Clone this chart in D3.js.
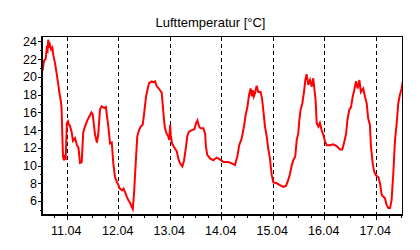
<!DOCTYPE html>
<html><head><meta charset="utf-8">
<script src="https://cdn.jsdelivr.net/npm/d3@7"></script>
<style>
html,body{margin:0;padding:0;background:#fff;}
svg{display:block;}
text{font-family:Arial,"Liberation Sans",sans-serif;fill:#000;}
</style>
</head><body>
<svg id="chart" width="420" height="250"></svg>
<script>
const chartTitle = "Lufttemperatur [°C]";
// hours since 10.04 00:00
const hours = [12.8,13.2,13.6,14.2,14.7,15.1,15.4,15.8,16.2,16.7,17.3,17.8,18.6,19.3,20.1,20.6,21.2,21.6,22.0,22.3,22.7,23.2,23.5,23.9,24.1,24.6,25.0,25.5,26.3,26.9,27.9,28.8,29.5,30.2,31.0,31.7,32.5,33.6,34.9,35.5,36.1,37.2,38.1,38.7,39.5,40.3,41.4,42.3,42.6,43.4,44.2,45.0,45.7,46.5,47.3,48.1,48.8,49.8,50.5,51.2,52.0,52.7,53.5,54.3,54.8,55.4,55.8,56.3,56.9,57.7,58.5,59.4,60.0,60.5,61.0,61.6,62.4,63.6,64.4,65.2,65.9,67.5,68.3,68.7,69.3,69.8,70.6,71.3,71.8,72.2,72.5,73.1,74.0,75.3,76.0,76.8,77.9,78.7,79.6,80.2,80.9,82.3,83.5,84.3,84.9,85.7,86.4,87.7,88.5,88.9,89.5,90.8,92.3,93.9,95.4,97.0,99.3,100.9,102.4,103.5,104.4,105.6,106.6,107.4,108.2,109.0,109.7,110.2,110.7,111.2,111.8,112.5,113.3,114.4,115.0,115.6,116.4,117.2,117.9,118.7,119.5,120.3,121.9,123.4,124.9,126.2,127.3,128.1,128.9,129.6,130.5,131.2,131.9,132.4,133.0,133.8,134.6,135.2,135.8,136.6,137.4,138.2,138.9,139.4,140.0,140.5,141.3,142.0,142.8,143.6,144.4,145.2,146.7,148.2,149.8,151.4,152.4,153.2,154.2,154.8,155.7,156.5,157.3,158.0,158.8,159.6,160.4,161.1,162.2,163.0,163.8,164.5,165.3,165.8,166.6,167.3,168.1,169.2,170.0,170.8,171.5,172.3,173.1,173.9,174.7,175.4,176.2,177.0,177.8,178.5,179.3,180.1,180.6];
const temps = [20.7,21.5,21.9,22.0,23.2,23.0,24.2,23.3,23.6,23.1,23.3,22.4,21.5,20.4,19.1,18.2,17.4,16.5,13.0,11.0,10.6,11.2,10.6,13.5,14.8,15.0,14.6,14.5,13.8,12.8,13.1,12.3,12.0,10.3,10.4,13.7,14.4,15.1,15.7,16.0,15.8,13.5,12.6,13.5,16.3,16.7,16.5,16.6,15.9,14.4,12.5,12.6,10.3,8.7,8.2,7.8,7.4,7.2,7.4,7.0,6.5,6.1,5.8,5.35,5.1,6.9,8.7,10.85,13.3,14.0,14.4,14.6,15.7,16.8,17.8,18.5,19.3,19.5,19.4,19.5,19.0,18.5,18.2,17.0,15.3,14.2,13.6,13.3,12.9,14.6,13.4,12.5,12.1,11.6,10.8,10.25,9.9,10.6,12.1,13.3,13.8,14.0,14.1,14.8,15.1,14.4,14.2,14.2,13.6,12.1,11.2,10.8,10.6,10.9,10.7,10.4,10.4,10.25,10.05,11.0,12.3,13.1,14.4,15.7,16.6,18.0,18.7,17.8,18.5,17.8,18.2,19.0,18.3,18.3,17.6,16.3,14.4,13.3,11.95,10.8,9.0,8.1,8.0,7.8,7.6,7.7,8.4,9.1,10.05,10.6,11.0,12.9,13.6,15.1,16.3,17.0,18.3,19.65,20.3,19.1,19.65,18.9,19.85,18.7,17.4,14.8,14.4,14.8,14.0,13.45,12.7,12.3,12.3,12.4,12.2,11.8,11.8,12.5,13.6,15.1,16.3,16.6,17.8,18.5,19.5,18.7,19.65,18.3,18.7,17.8,17.0,15.3,14.6,12.1,10.25,9.3,8.9,8.7,8.0,6.7,6.5,6.3,5.55,5.2,5.2,6.1,9.1,12.9,14.8,17.0,18.0,18.7,19.5];
const yMajorTicks = [6,8,10,12,14,16,18,20,22,24];
const yMinorTicks = [5,7,9,11,13,15,17,19,21,23];
const xTickLabels = ["11.04","12.04","13.04","14.04","15.04","16.04","17.04"];
const xDayHours = [24,48,72,96,120,144,168];
const xMinorHours = [18,30,36,42,54,60,66,78,84,90,102,108,114,126,132,138,150,156,162,174,180];

const base = new Date(2024, 3, 10, 0, 0, 0);
const toDate = h => new Date(base.getTime() + h * 3600000);

const L = 42, R = 402.5, T = 36.5, B = 215;
const svg = d3.select("#chart");
const x = d3.scaleTime().domain([toDate(12.49), toDate(180.49)]).range([L, R]);
const y = d3.scaleLinear().domain([4.42, 24.56]).range([B, T]);

svg.append("text").attr("x", 210.5).attr("y", 26.5).attr("text-anchor", "middle")
  .style("font-size", "13px").text(chartTitle);

// grid
svg.append("g").attr("shape-rendering", "crispEdges").selectAll("line").data(xDayHours).join("line")
  .attr("x1", d => Math.round(x(toDate(d))) + 0.5).attr("x2", d => Math.round(x(toDate(d))) + 0.5)
  .attr("y1", T).attr("y2", B)
  .attr("stroke", "#000").attr("stroke-width", 1).attr("stroke-dasharray", "4,3");

// data line
svg.append("defs").append("clipPath").attr("id", "clip").append("rect")
  .attr("x", L).attr("y", T).attr("width", R - L).attr("height", B - T);
const pts = hours.map((h, i) => [toDate(h), temps[i]]);
svg.append("path").datum(pts).attr("clip-path", "url(#clip)")
  .attr("fill", "none").attr("stroke", "#ff0000").attr("stroke-width", 2)
  .attr("d", d3.line().x(d => x(d[0])).y(d => y(d[1])));

// y axis
const yAx = svg.append("g").attr("transform", `translate(${L},0)`).attr("shape-rendering", "crispEdges")
  .call(d3.axisLeft(y).tickValues(yMajorTicks).tickSize(4).tickSizeOuter(0).tickPadding(1).tickFormat(d3.format("d")));
yAx.select(".domain").remove();
yAx.selectAll("text").style("font-size", "12.5px");
const yMin = svg.append("g").attr("transform", `translate(${L},0)`).attr("shape-rendering", "crispEdges")
  .call(d3.axisLeft(y).tickValues(yMinorTicks).tickSize(2).tickSizeOuter(0).tickFormat(""));
yMin.select(".domain").remove();

// x axis
const xAx = svg.append("g").attr("transform", `translate(0,${B})`).attr("shape-rendering", "crispEdges")
  .call(d3.axisBottom(x).tickValues(xDayHours.map(toDate)).tickSize(5).tickSizeOuter(0).tickFormat((d, i) => xTickLabels[i]));
xAx.select(".domain").remove();
xAx.selectAll("text").attr("y", 20).attr("dy", null).attr("dx", -1).style("font-size", "12.5px");
const xMin = svg.append("g").attr("transform", `translate(0,${B})`).attr("shape-rendering", "crispEdges")
  .call(d3.axisBottom(x).tickValues(xMinorHours.map(toDate)).tickSize(3).tickSizeOuter(0).tickFormat(""));
xMin.select(".domain").remove();

// frame
const fr = svg.append("g").attr("shape-rendering", "crispEdges").attr("stroke", "#000").attr("fill", "none");
fr.append("line").attr("x1", L).attr("x2", L).attr("y1", T - 0.5).attr("y2", B + 1).attr("stroke-width", 2);
fr.append("line").attr("x1", L - 1).attr("x2", R + 0.5).attr("y1", B).attr("y2", B).attr("stroke-width", 2);
fr.append("line").attr("x1", L).attr("x2", R).attr("y1", T).attr("y2", T).attr("stroke-width", 1);
fr.append("line").attr("x1", R).attr("x2", R).attr("y1", T).attr("y2", B).attr("stroke-width", 1);
</script>
</body></html>
